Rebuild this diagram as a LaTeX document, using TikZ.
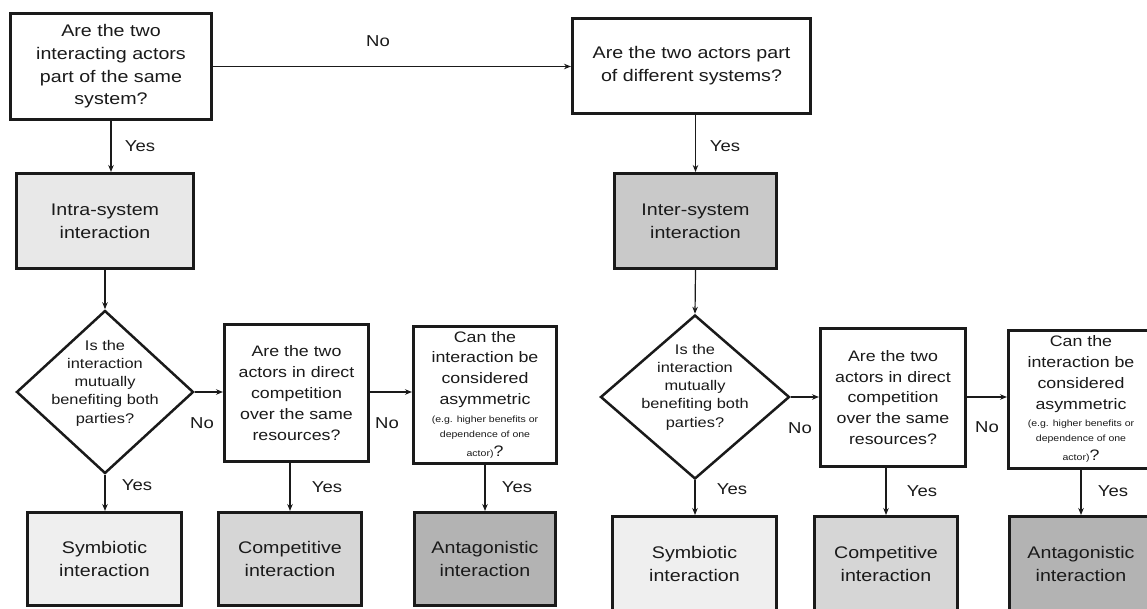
\documentclass[tikz,border=0pt]{standalone}
\usepackage{fontspec}
\setmainfont{Liberation Sans}[FakeStretch=1.17]
\usetikzlibrary{shapes.geometric,arrows.meta}
\definecolor{ink}{HTML}{1A1A1A}
\definecolor{intrafill}{HTML}{E8E8E8}
\definecolor{interfill}{HTML}{C9C9C9}
\definecolor{symfill}{HTML}{EFEFEF}
\definecolor{compfill}{HTML}{D6D6D6}
\definecolor{antfill}{HTML}{B3B3B3}
\newcommand\smallnote[1]{{\fontsize{9}{12}\selectfont #1}}
\begin{document}
\begin{tikzpicture}[x=1pt,y=-1pt,
  box/.style={draw=ink, line width=3pt, inner sep=0pt, align=center, text=ink, fill=white},
  big/.style={font=\fontsize{16.8}{22.7}\selectfont},
  mid/.style={font=\fontsize{15.2}{20.8}\selectfont},
  dia/.style={draw=ink, diamond, line width=2.5pt, inner sep=0pt, fill=white},
  diatext/.style={align=center, text=ink, font=\fontsize{14}{18.3}\selectfont},
  arr/.style={draw=ink, line width=1.2pt, -{Stealth[length=7pt,width=5.5pt]}},
  lbl/.style={text=ink, font=\fontsize{15.8}{18}\selectfont, inner sep=0pt},
]
\useasboundingbox (0,0) rectangle (1147,609);
\clip (0,0) rectangle (1147,609);
\fill[white] (0,0) rectangle (1147,609);

% top level questions
\node[box, big, minimum width=201pt, minimum height=106pt] (q1) at (111,66.5)
  {Are the two\\interacting actors\\part of the same\\system?};
\node[box, big, minimum width=238pt, minimum height=95pt] (q2) at (691.5,66)
  {Are the two actors part\\of different systems?};

% system level
\node[box, big, fill=intrafill, minimum width=177pt, minimum height=95pt] (intra) at (105,221)
  {Intra-system\\interaction};
\node[box, big, fill=interfill, minimum width=162pt, minimum height=95pt] (inter) at (695.5,221)
  {Inter-system\\interaction};

% intra-system branch
\node[dia, minimum width=177pt, minimum height=163pt,
  label={[diatext, yshift=9pt]center:Is the\\interaction\\mutually\\benefiting both\\parties?}] (d1) at (105,392) {};
\node[box, mid, minimum width=144pt, minimum height=137pt] (q3) at (296.5,393)
  {Are the two\\actors in direct\\competition\\over the same\\resources?};
\node[box, mid, minimum width=143pt, minimum height=137pt] (q4) at (485,394.5)
  {Can the\\interaction be\\considered\\asymmetric\\[-3.3pt]\smallnote{(e.g. higher benefits or}\\[-5.8pt]\smallnote{dependence of one}\\[-1.8pt]\smallnote{actor)}?};
\node[box, big, fill=symfill, minimum width=154pt, minimum height=93pt] (s1) at (104.5,559)
  {Symbiotic\\interaction};
\node[box, big, fill=compfill, minimum width=143pt, minimum height=93pt] (c1) at (290,559)
  {Competitive\\interaction};
\node[box, big, fill=antfill, minimum width=141pt, minimum height=93pt] (a1) at (485,559)
  {Antagonistic\\interaction};

% inter-system branch
\node[dia, minimum width=189pt, minimum height=164pt,
  label={[diatext, yshift=10pt]center:Is the\\interaction\\mutually\\benefiting both\\parties?}] (d2) at (695,397) {};
\node[box, mid, minimum width=145pt, minimum height=138pt] (q5) at (893,397.5)
  {Are the two\\actors in direct\\competition\\over the same\\resources?};
\node[box, mid, minimum width=145pt, minimum height=138pt] (q6) at (1081,399)
  {Can the\\interaction be\\considered\\asymmetric\\[-3.3pt]\smallnote{(e.g. higher benefits or}\\[-5.8pt]\smallnote{dependence of one}\\[-1.8pt]\smallnote{actor)}?};
\node[box, big, fill=symfill, minimum width=164pt, minimum height=95pt] (s2) at (694.5,564)
  {Symbiotic\\interaction};
\node[box, big, fill=compfill, minimum width=143pt, minimum height=95pt] (c2) at (886,564)
  {Competitive\\interaction};
\node[box, big, fill=antfill, minimum width=143pt, minimum height=95pt] (a2) at (1081,564)
  {Antagonistic\\interaction};

% connectors
\draw[arr] (q1.east) -- (q1.east -| q2.west);
\draw[arr] (q1.south) -- (q1.south |- intra.north);
\draw[arr] (inter.north |- q2.south) -- (inter.north);
\draw[arr] (intra.south) -- (d1.north);
\draw[arr] (inter.south) -- (d2.north);

\draw[arr] (d1.east) -- (d1.east -| q3.west);
\draw[arr] (q3.east |- d1.east) -- (d1.east -| q4.west);
\draw[arr] (d1.south) -- (d1.south |- s1.north);
\draw[arr] (c1.north |- q3.south) -- (c1.north);
\draw[arr] (q4.south) -- (a1.north);

\draw[arr] (d2.east) -- (d2.east -| q5.west);
\draw[arr] (q5.east |- d2.east) -- (d2.east -| q6.west);
\draw[arr] (d2.south) -- (d2.south |- s2.north);
\draw[arr] (c2.north |- q5.south) -- (c2.north);
\draw[arr] (q6.south) -- (a2.north);

% branch labels
\node[lbl] (n0) at (378,41) {No};
\node[lbl] (y0) at (140,146) {Yes};
\node[lbl] (y00) at (725,146) {Yes};
\node[lbl] (n1) at (202,423) {No};
\node[lbl] (n2) at (387,423) {No};
\node[lbl] (y1) at (137,485) {Yes};
\node[lbl] (y2) at (327,487) {Yes};
\node[lbl] (y3) at (517,487) {Yes};
\node[lbl] (n3) at (800,428) {No};
\node[lbl] (n4) at (987,427) {No};
\node[lbl] (y4) at (732,489) {Yes};
\node[lbl] (y5) at (922,491) {Yes};
\node[lbl] (y6) at (1113,491) {Yes};
\end{tikzpicture}
\end{document}
